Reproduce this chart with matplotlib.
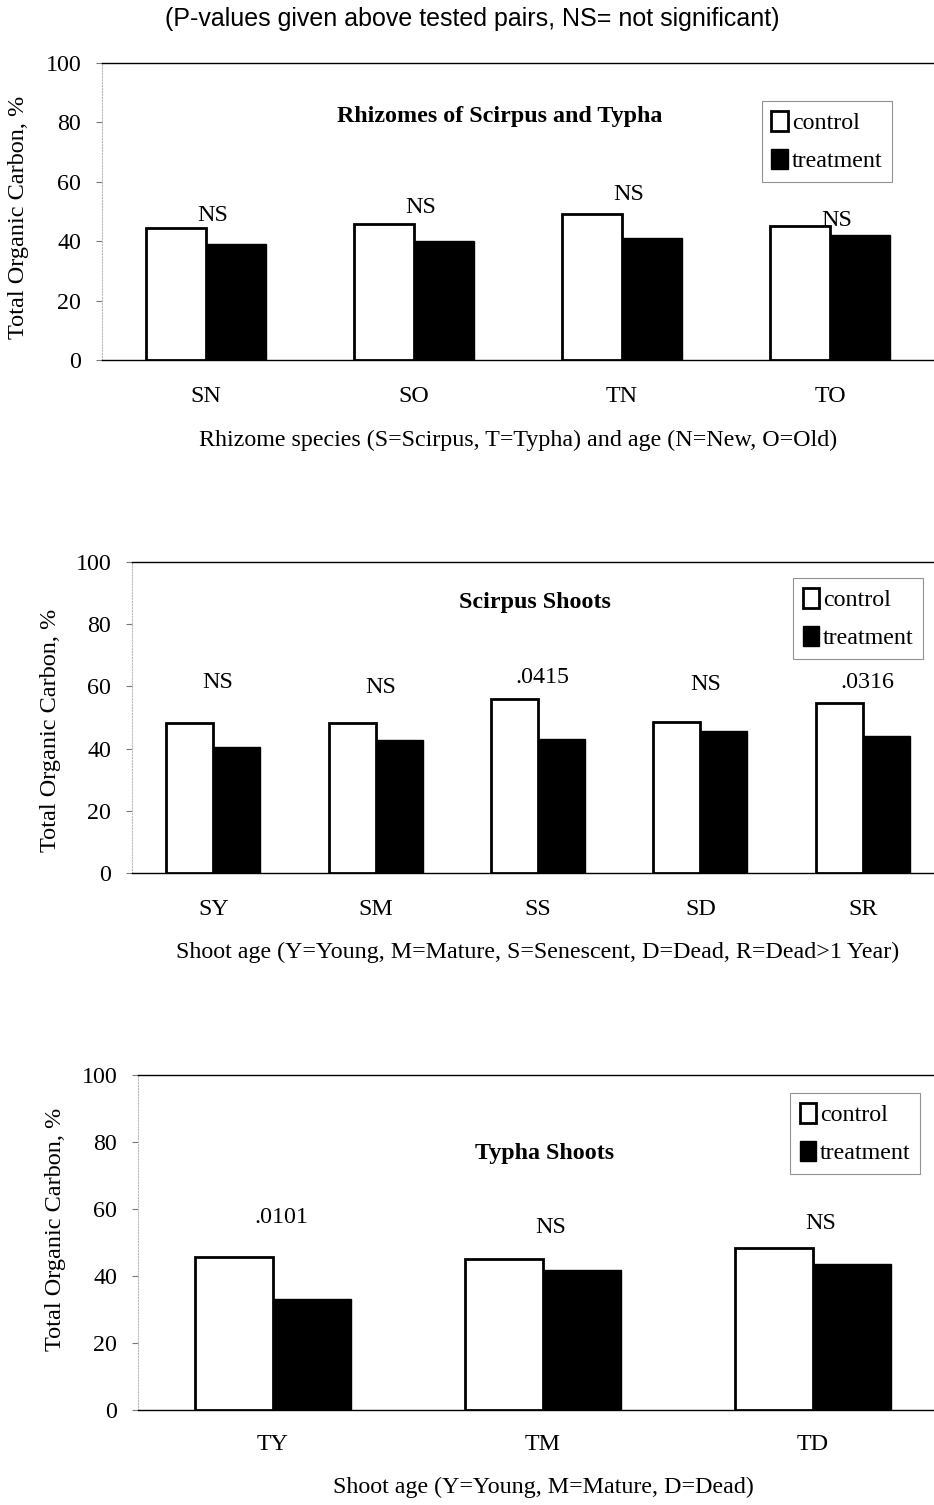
import matplotlib.pyplot as plt
import numpy as np

plt.rcParams["font.family"] = ["Liberation Serif", "DejaVu Serif"]

# Total organic carbon (%) of control and treatment plants
rhizome_cats = ["SN", "SO", "TN", "TO"]
rhizome_control = [44.4, 45.8, 49.2, 45.1]
rhizome_treatment = [39.1, 40.1, 41.1, 42.1]
rhizome_p = ["NS", "NS", "NS", "NS"]

scirpus_cats = ["SY", "SM", "SS", "SD", "SR"]
scirpus_control = [48.1, 48.1, 55.8, 48.7, 54.8]
scirpus_treatment = [40.6, 42.9, 43.2, 45.5, 44.2]
scirpus_p = ["NS", "NS", ".0415", "NS", ".0316"]

typha_cats = ["TY", "TM", "TD"]
typha_control = [45.7, 45.1, 48.4]
typha_treatment = [33.1, 41.8, 43.6]
typha_p = [".0101", "NS", "NS"]

FS = 17.3  # base font size

W, H = 934, 1505
fig = plt.figure(figsize=(W / 100, H / 100), dpi=100)

fig.text(0.506, 1 - 19 / H, "(P-values given above tested pairs, NS= not significant)",
         family="Liberation Sans", fontsize=18, ha="center", va="center")


def px_axes(left, right, top, bottom):
    return fig.add_axes([left / W, 1 - bottom / H, (right - left) / W, (bottom - top) / H])


def draw_panel(ax, cats, control, treatment, pvals, p_y, title, title_pos,
               xlabel, xlabel_y, ylabel_pos, legend_pos, tick_pad):
    x = np.arange(len(cats))
    w = 0.29
    b1 = ax.bar(x - w / 2, control, w, color="white", edgecolor="black", linewidth=2,
                label="control", zorder=3)
    b2 = ax.bar(x + w / 2, treatment, w, color="black", edgecolor="black", linewidth=1,
                label="treatment", zorder=2)
    # p-value (or NS) above each pair
    for xi, txt, yi in zip(x, pvals, p_y):
        ax.text(xi + 0.03, yi, txt, ha="center", va="center", fontsize=FS, zorder=4)

    ax.set_xlim(-0.5, len(cats) - 0.5)
    ax.set_ylim(0, 100)
    ax.set_yticks([0, 20, 40, 60, 80, 100])
    ax.set_xticks(x)
    ax.set_xticklabels(cats)
    ax.tick_params(axis="x", length=0, pad=tick_pad, labelsize=FS)
    ax.tick_params(axis="y", length=4, width=0.8, color="#777777", pad=11, labelsize=FS)

    for s in ("top", "bottom"):
        ax.spines[s].set_linewidth(1.0)
    ax.spines["right"].set_visible(False)
    ax.spines["left"].set_color("#bbbbbb")
    ax.spines["left"].set_linestyle(":")
    ax.spines["left"].set_linewidth(0.8)

    ax.text(title_pos[0], title_pos[1], title, transform=ax.transAxes,
            ha="center", va="center", fontsize=FS, fontweight="bold")

    ax.set_xlabel(xlabel, fontsize=FS)
    ax.xaxis.set_label_coords(0.5, xlabel_y)
    ax.set_ylabel("Total Organic Carbon, %", fontsize=17.5)
    ax.yaxis.set_label_coords(*ylabel_pos)

    leg = ax.legend(handles=[b1, b2], loc="upper left", bbox_to_anchor=legend_pos,
                    fontsize=FS, frameon=True, fancybox=False, handlelength=0.7,
                    handleheight=0.9, handletextpad=0.15, labelspacing=0.62,
                    borderpad=0.4, borderaxespad=0)
    leg.get_frame().set_edgecolor("#777777")
    leg.get_frame().set_linewidth(0.8)


ax1 = px_axes(102, 934, 63, 360)
draw_panel(ax1, rhizome_cats, rhizome_control, rhizome_treatment, rhizome_p,
           [48.8, 51.5, 55.6, 47.1], "Rhizomes of Scirpus and Typha", (0.478, 0.82),
           "Rhizome species (S=Scirpus, T=Typha) and age (N=New, O=Old)", -0.235,
           (-0.088, 0.48), (0.793, 0.872), 18.5)

ax2 = px_axes(132, 944, 562, 873)
draw_panel(ax2, scirpus_cats, scirpus_control, scirpus_treatment, scirpus_p,
           [61.3, 59.7, 62.9, 60.6, 61.3], "Scirpus Shoots", (0.496, 0.87),
           "Shoot age (Y=Young, M=Mature, S=Senescent, D=Dead, R=Dead>1 Year)", -0.22,
           (-0.087, 0.46), (0.814, 0.948), 18.5)

ax3 = px_axes(138, 948, 1075, 1410)
draw_panel(ax3, typha_cats, typha_control, typha_treatment, typha_p,
           [57.6, 54.6, 55.8], "Typha Shoots", (0.502, 0.767),
           "Shoot age (Y=Young, M=Mature, D=Dead)", -0.2,
           (-0.089, 0.54), (0.805, 0.946), 17.5)

fig.savefig("out.png", dpi=100)
